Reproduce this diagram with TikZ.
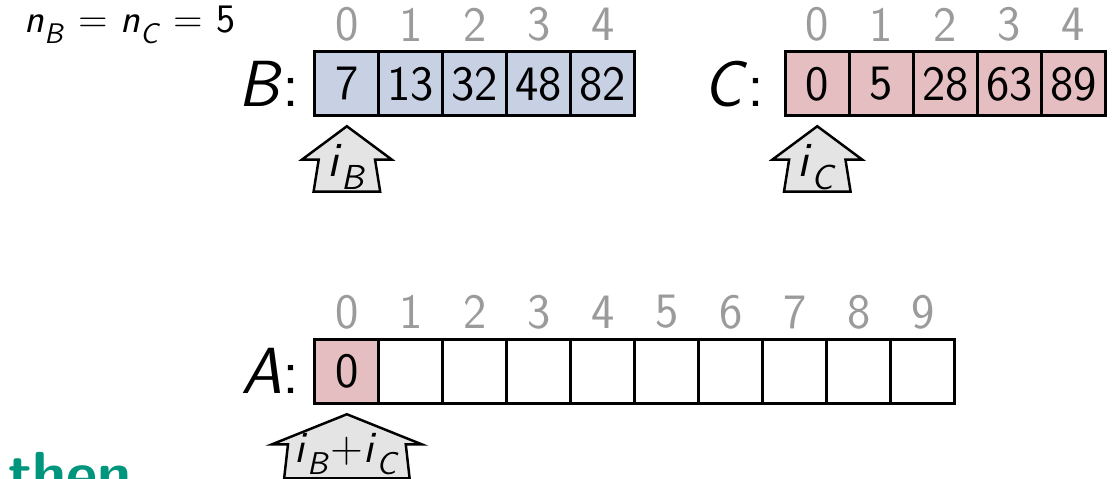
\documentclass[tikz,border=0pt]{standalone}
\usetikzlibrary{calc}

\definecolor{cellblue}{RGB}{200,208,228}
\definecolor{cellpink}{RGB}{228,190,192}
\definecolor{ptrgrey}{RGB}{228,228,228}
\definecolor{idxgrey}{RGB}{155,155,155}
\definecolor{thengreen}{RGB}{0,150,125}

% chu nghieng sans co chi so duoi
\newcommand{\vsub}[2]{\textit{#1}\raisebox{-0.25ex}{\textsubscript{\textit{#2}}}}

\tikzset{
  cell/.style={draw, line width=1.3pt, minimum size=1cm, inner sep=0pt,
    font=\sffamily\fontsize{22}{26}\selectfont},
  idx/.style={text=idxgrey, inner sep=0pt, font=\sffamily\fontsize{22}{26}\selectfont},
  arrname/.style={inner sep=0pt, font=\sffamily\fontsize{29}{34}\selectfont},
  ptr/.style={draw, fill=ptrgrey, line width=1.1pt, line join=miter},
  ptrtext/.style={inner sep=0pt, font=\sffamily\fontsize{22}{26}\selectfont}
}

\begin{document}
\begin{tikzpicture}
    \useasboundingbox (0,0) rectangle (17.4375,-7.484);

    % Kich thuoc
    \node[anchor=west, inner sep=0pt, font=\sffamily\fontsize{18}{21}\selectfont] (sizes) at (0.38,-0.39) {\vsub{n}{B} = \vsub{n}{C} = 5};

    % Mang B va C
    \foreach \i/\v in {0/7, 1/13, 2/32, 3/48, 4/82} {
        \node[cell, fill=cellblue] (b\i) at (5.42+\i, -1.31) {\v};
        \node[idx] (bi\i) at ($(b\i.north)+(0,0.40)$) {\i};
    }
    \foreach \i/\v in {0/0, 1/5, 2/28, 3/63, 4/89} {
        \node[cell, fill=cellpink] (c\i) at (12.77+\i, -1.31) {\v};
        \node[idx] (ci\i) at ($(c\i.north)+(0,0.40)$) {\i};
    }
    \node[arrname, anchor=east] (bname) at (4.69,-1.31) {\textit{B}:};
    \node[arrname, anchor=east] (cname) at (11.95,-1.31) {\textit{C}:};

    % Mang A
    \foreach \i in {0,...,9} {
        \node[cell] (a\i) at (5.42+\i, -5.80) {};
        \node[idx] (ai\i) at ($(a\i.north)+(0,0.40)$) {\i};
    }
    \node[cell, fill=cellpink] at (a0) {0};
    \node[arrname, anchor=east] (aname) at (4.69,-5.80) {\textit{A}:};

    % Con tro i_B, i_C
    \coordinate (tb) at ($(b0.south)+(0,-0.14)$);
    \coordinate (tc) at ($(c0.south)+(0,-0.14)$);
    \coordinate (ta) at ($(a0.south)+(0,-0.15)$);
    \draw[ptr] (tb) -- ++(0.70,-0.52) -- ++(-0.26,0) -- ++(0.08,-0.50) -- ++(-1.04,0) -- ++(0.08,0.50) -- ++(-0.26,0) -- cycle;
    \draw[ptr] (tc) -- ++(0.70,-0.52) -- ++(-0.26,0) -- ++(0.08,-0.50) -- ++(-1.04,0) -- ++(0.08,0.50) -- ++(-0.26,0) -- cycle;
    \draw[ptr] (ta) -- ++(1.17,-0.47) -- ++(-0.25,0) -- ++(0.06,-0.53) -- ++(-1.96,0) -- ++(0.06,0.53) -- ++(-0.25,0) -- cycle;
    \node[ptrtext] (ib) at ($(tb)+(0,-0.64)$) {\vsub{i}{B}};
    \node[ptrtext] (ic) at ($(tc)+(0,-0.64)$) {\vsub{i}{C}};
    \node[ptrtext, font=\sffamily\fontsize{20}{24}\selectfont] (ibc) at ($(ta)+(0,-0.62)$) {\vsub{i}{B}+\vsub{i}{C}};

    % Chu "then" bi cat
    \node[anchor=base west, inner sep=0pt, text=thengreen, font=\sffamily\bfseries\fontsize{27}{31}\selectfont] (then) at (0.12,-7.72) {then};

\end{tikzpicture}
\end{document}
